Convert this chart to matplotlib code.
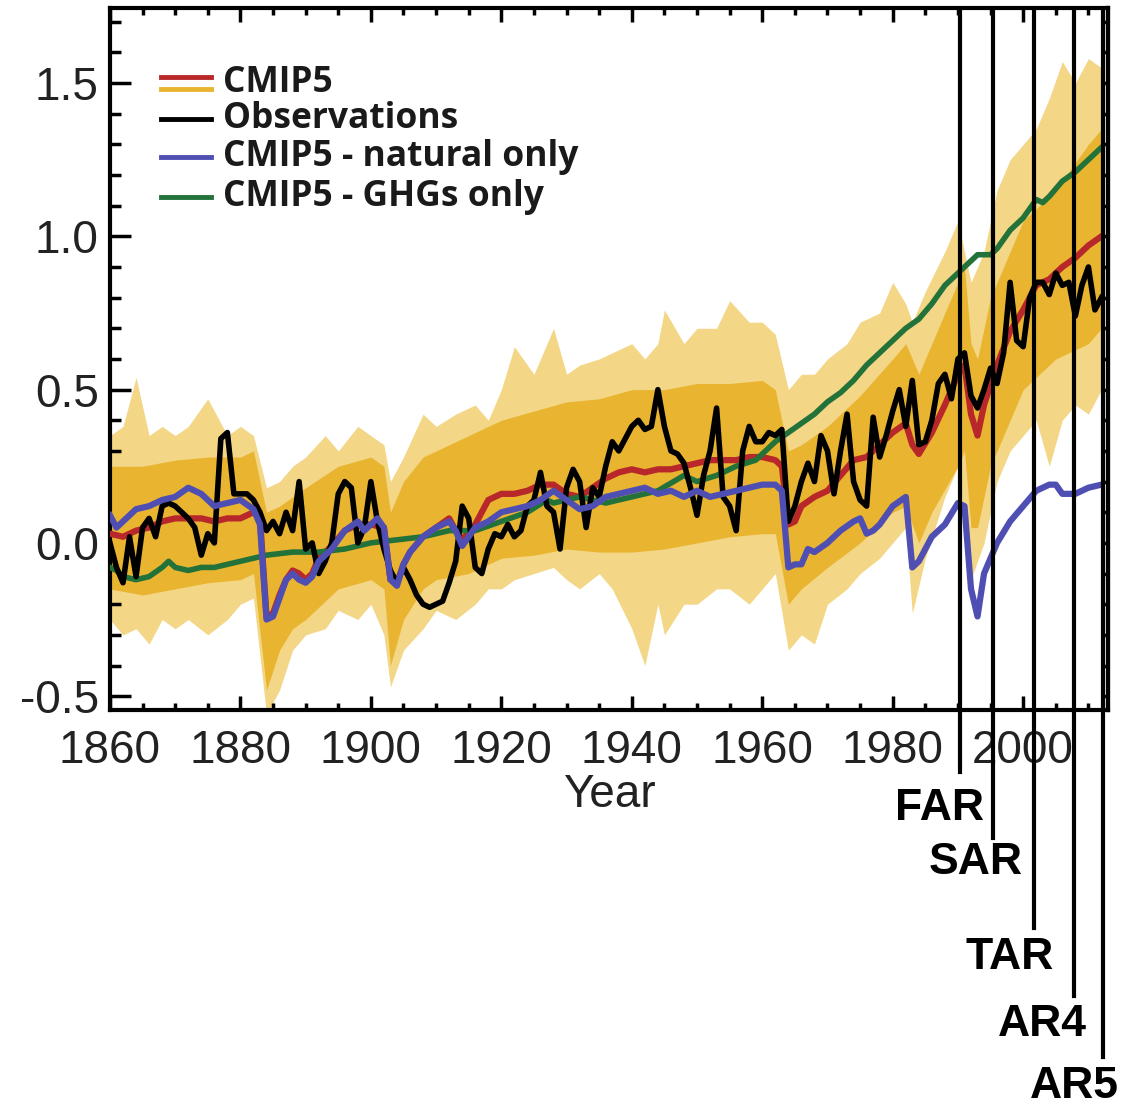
import numpy as np
import matplotlib
matplotlib.use("Agg")
import matplotlib.pyplot as plt
import matplotlib.transforms as mtransforms
from matplotlib.ticker import MultipleLocator

# observations, annual 1860-2012
obs_years = np.arange(1860, 2013)
obs = [
    0.00, -0.08, -0.13, 0.02, -0.11, 0.05, 0.08, 0.02, 0.12, 0.13,
    0.12, 0.10, 0.08, 0.05, -0.04, 0.03, 0.00, 0.34, 0.36, 0.16,
    0.16, 0.16, 0.14, 0.10, 0.04, 0.07, 0.03, 0.10, 0.04, 0.20,
    -0.02, 0.00, -0.10, -0.06, 0.00, 0.16, 0.20, 0.18, 0.00, 0.05,
    0.20, 0.07, -0.02, -0.09, -0.13, -0.08, -0.12, -0.17, -0.20, -0.21,
    -0.20, -0.19, -0.13, -0.06, 0.12, 0.08, -0.08, -0.10, -0.02, 0.03,
    0.02, 0.06, 0.02, 0.04, 0.12, 0.14, 0.23, 0.12, 0.10, -0.02,
    0.18, 0.24, 0.20, 0.05, 0.18, 0.15, 0.25, 0.33, 0.30, 0.34,
    0.38, 0.40, 0.37, 0.38, 0.50, 0.38, 0.30, 0.29, 0.26, 0.18,
    0.09, 0.22, 0.30, 0.44, 0.15, 0.12, 0.04, 0.30, 0.38, 0.33,
    0.33, 0.36, 0.35, 0.37, 0.07, 0.12, 0.20, 0.26, 0.20, 0.35,
    0.30, 0.16, 0.30, 0.42, 0.20, 0.14, 0.12, 0.41, 0.28, 0.35,
    0.43, 0.50, 0.38, 0.53, 0.32, 0.33, 0.40, 0.52, 0.55, 0.47,
    0.60, 0.62, 0.48, 0.44, 0.50, 0.57, 0.52, 0.62, 0.85, 0.66,
    0.64, 0.80, 0.85, 0.85, 0.81, 0.88, 0.84, 0.85, 0.74, 0.84,
    0.90, 0.76, 0.80,
]

# CMIP5 multi-model mean (red)
cmip_years = [1860, 1862, 1864, 1866, 1868, 1870, 1872, 1874, 1876, 1878, 1880, 1882, 1883,
              1884, 1885, 1886, 1887, 1888, 1889, 1890, 1891, 1892, 1894, 1896, 1898, 1900,
              1902, 1903, 1904, 1905, 1906, 1908, 1910, 1912, 1913, 1914, 1916, 1918, 1920,
              1922, 1924, 1926, 1928, 1930, 1932, 1934, 1936, 1938, 1940, 1942, 1944, 1946,
              1948, 1950, 1952, 1954, 1956, 1958, 1960, 1962, 1963, 1964, 1965, 1966, 1968,
              1970, 1972, 1974, 1976, 1978, 1980, 1982, 1983, 1984, 1986, 1988, 1990, 1991,
              1992, 1993, 1994, 1996, 1998, 2000, 2002, 2004, 2006, 2008, 2010, 2012]
cmip_mean = [0.03, 0.02, 0.04, 0.05, 0.07, 0.08, 0.08, 0.08, 0.07, 0.08, 0.08, 0.10, 0.08,
             -0.24, -0.23, -0.17, -0.12, -0.09, -0.10, -0.12, -0.10, -0.05, -0.01, 0.04, 0.06, 0.06,
             0.05, -0.12, -0.13, -0.07, -0.03, 0.02, 0.05, 0.08, 0.04, 0.01, 0.06, 0.14, 0.16,
             0.16, 0.17, 0.19, 0.19, 0.16, 0.15, 0.18, 0.21, 0.23, 0.24, 0.23, 0.24, 0.24,
             0.25, 0.26, 0.27, 0.27, 0.27, 0.28, 0.28, 0.27, 0.25, 0.06, 0.07, 0.12, 0.15,
             0.17, 0.22, 0.27, 0.28, 0.32, 0.36, 0.39, 0.32, 0.29, 0.36, 0.45, 0.55, 0.58,
             0.42, 0.35, 0.45, 0.58, 0.69, 0.76, 0.84, 0.86, 0.90, 0.93, 0.97, 1.00]

# CMIP5 natural forcing only (blue)
nat_years = [1860, 1861, 1862, 1864, 1866, 1868, 1870, 1872, 1874, 1876, 1878, 1880, 1882, 1883,
             1884, 1885, 1886, 1887, 1888, 1889, 1890, 1891, 1892, 1894, 1896, 1898, 1899, 1900,
             1901, 1902, 1903, 1904, 1905, 1906, 1908, 1910, 1912, 1913, 1914, 1915, 1916, 1918,
             1920, 1922, 1924, 1926, 1928, 1930, 1932, 1934, 1936, 1938, 1940, 1942, 1944, 1946,
             1948, 1950, 1952, 1954, 1956, 1958, 1960, 1962, 1963, 1964, 1965, 1966, 1967, 1968,
             1970, 1972, 1974, 1975, 1976, 1977, 1978, 1980, 1982, 1983, 1984, 1986, 1988, 1990,
             1991, 1992, 1993, 1994, 1996, 1998, 2000, 2002, 2004, 2005, 2006, 2008, 2010, 2012]
nat_only = [0.09, 0.05, 0.07, 0.11, 0.12, 0.14, 0.15, 0.18, 0.16, 0.12, 0.13, 0.14, 0.11, 0.06,
            -0.25, -0.24, -0.18, -0.12, -0.10, -0.12, -0.13, -0.11, -0.06, -0.02, 0.04, 0.07, 0.04, 0.06,
            0.08, 0.05, -0.12, -0.14, -0.07, -0.03, 0.02, 0.05, 0.07, 0.04, -0.01, 0.02, 0.05, 0.07,
            0.10, 0.11, 0.12, 0.14, 0.17, 0.14, 0.11, 0.12, 0.15, 0.16, 0.17, 0.18, 0.16, 0.17,
            0.15, 0.17, 0.15, 0.16, 0.17, 0.18, 0.19, 0.19, 0.17, -0.08, -0.07, -0.07, -0.02, -0.03,
            0.00, 0.04, 0.07, 0.08, 0.03, 0.04, 0.06, 0.12, 0.15, -0.08, -0.06, 0.02, 0.06, 0.13,
            0.12, -0.15, -0.24, -0.10, 0.00, 0.07, 0.12, 0.17, 0.19, 0.19, 0.16, 0.16, 0.18, 0.19]

# CMIP5 greenhouse gases only (green)
ghg_years = [1860, 1861, 1862, 1864, 1866, 1868, 1869, 1870, 1872, 1874, 1876, 1878, 1880,
             1884, 1888, 1892, 1896, 1900, 1904, 1908, 1912, 1916, 1920, 1924, 1927, 1928,
             1932, 1936, 1940, 1944, 1948, 1950, 1953, 1956, 1959, 1962, 1964, 1966, 1968,
             1970, 1972, 1974, 1976, 1978, 1980, 1982, 1984, 1986, 1988, 1990, 1992, 1993,
             1995, 1996, 1998, 2000, 2002, 2003, 2004, 2006, 2008, 2010, 2012]
ghg_only = [-0.08, -0.09, -0.11, -0.12, -0.11, -0.08, -0.06, -0.08, -0.09, -0.08, -0.08, -0.07, -0.06,
            -0.04, -0.03, -0.03, -0.02, 0.00, 0.01, 0.02, 0.04, 0.04, 0.07, 0.10, 0.14, 0.13,
            0.15, 0.13, 0.15, 0.17, 0.22, 0.20, 0.22, 0.25, 0.27, 0.33, 0.36, 0.39, 0.42,
            0.46, 0.49, 0.53, 0.58, 0.62, 0.66, 0.70, 0.73, 0.78, 0.84, 0.88, 0.92, 0.94,
            0.94, 0.96, 1.02, 1.06, 1.12, 1.11, 1.13, 1.18, 1.21, 1.25, 1.29]

# CMIP5 ensemble spread: dense core of runs
core_years = [1860, 1865, 1870, 1875, 1880, 1882, 1884, 1886, 1888, 1890, 1895, 1900, 1902,
              1903, 1905, 1908, 1910, 1915, 1920, 1925, 1930, 1935, 1940, 1945, 1950, 1955,
              1960, 1962, 1964, 1966, 1970, 1975, 1980, 1982, 1984, 1986, 1990, 1991, 1992,
              1993, 1995, 2000, 2005, 2010, 2012]
core_lo = [-0.15, -0.17, -0.15, -0.13, -0.12, -0.10, -0.48, -0.35, -0.28, -0.25, -0.15, -0.12, -0.15,
           -0.40, -0.25, -0.15, -0.12, -0.10, -0.05, -0.04, -0.02, -0.03, -0.03, -0.02, 0.00, 0.02,
           0.03, 0.03, -0.20, -0.15, -0.08, 0.00, 0.10, 0.12, 0.00, 0.10, 0.25, 0.30, 0.05,
           0.05, 0.25, 0.50, 0.60, 0.65, 0.70]
core_hi = [0.25, 0.25, 0.27, 0.28, 0.28, 0.30, 0.10, 0.12, 0.15, 0.18, 0.25, 0.28, 0.25,
           0.10, 0.20, 0.28, 0.30, 0.35, 0.40, 0.43, 0.46, 0.47, 0.50, 0.50, 0.52, 0.52,
           0.53, 0.50, 0.30, 0.32, 0.38, 0.48, 0.60, 0.65, 0.55, 0.65, 0.85, 0.90, 0.65,
           0.60, 0.80, 1.05, 1.15, 1.30, 1.35]

# outermost runs
outer_years = [1860, 1862, 1864, 1866, 1868, 1870, 1872, 1875, 1878, 1880, 1882, 1884, 1886,
               1888, 1890, 1893, 1895, 1898, 1900, 1902, 1903, 1905, 1908, 1910, 1913, 1916,
               1918, 1920, 1922, 1925, 1928, 1930, 1932, 1935, 1937, 1940, 1942, 1944, 1945,
               1948, 1950, 1953, 1955, 1958, 1960, 1962, 1964, 1966, 1968, 1970, 1973, 1975,
               1978, 1980, 1982, 1983, 1985, 1988, 1990, 1992, 1994, 1996, 1998, 2000, 2002,
               2004, 2006, 2008, 2010, 2012]
outer_lo = [-0.25, -0.30, -0.28, -0.33, -0.25, -0.28, -0.25, -0.30, -0.25, -0.20, -0.18, -0.56, -0.48,
            -0.35, -0.30, -0.28, -0.22, -0.25, -0.20, -0.30, -0.47, -0.35, -0.28, -0.22, -0.25, -0.20,
            -0.15, -0.15, -0.12, -0.10, -0.08, -0.12, -0.15, -0.10, -0.15, -0.28, -0.40, -0.20, -0.30,
            -0.20, -0.20, -0.15, -0.15, -0.20, -0.15, -0.10, -0.35, -0.30, -0.33, -0.20, -0.15, -0.10,
            -0.05, 0.00, 0.05, -0.23, -0.05, 0.15, 0.25, -0.12, 0.00, 0.20, 0.30, 0.35, 0.40,
            0.25, 0.40, 0.45, 0.42, 0.50]
outer_hi = [0.35, 0.38, 0.54, 0.35, 0.38, 0.35, 0.38, 0.47, 0.35, 0.38, 0.35, 0.18, 0.20,
            0.25, 0.28, 0.35, 0.30, 0.38, 0.35, 0.32, 0.20, 0.28, 0.42, 0.38, 0.42, 0.45,
            0.40, 0.50, 0.64, 0.55, 0.70, 0.55, 0.58, 0.60, 0.62, 0.65, 0.60, 0.65, 0.76,
            0.65, 0.70, 0.70, 0.79, 0.72, 0.72, 0.68, 0.50, 0.55, 0.55, 0.60, 0.65, 0.72,
            0.75, 0.85, 0.78, 0.72, 0.82, 0.95, 1.05, 0.85, 0.95, 1.15, 1.25, 1.30, 1.35,
            1.45, 1.57, 1.50, 1.58, 1.55]

# IPCC assessment reports (line position, label)
reports = ["FAR", "SAR", "TAR", "AR4", "AR5"]
report_x = [1990.3, 1995.4, 2001.6, 2007.8, 2012.3]

YELLOW = "#e9b530"
YELLOW_LIGHT = "#f3d686"
RED = "#b8282a"
BLUE = "#4f4fb3"
GREEN = "#23723a"

plt.rcParams["font.family"] = ["Liberation Sans", "DejaVu Sans"]

fig = plt.figure(figsize=(11.22, 11.05), dpi=100)
ax = fig.add_axes([0.098, 0.3575, 0.8895, 0.6353])

ax.fill_between(outer_years, outer_lo, outer_hi, color=YELLOW_LIGHT, lw=0, zorder=1)
ax.fill_between(core_years, core_lo, core_hi, color=YELLOW, lw=0, zorder=2)

ax.plot(cmip_years, cmip_mean, color=RED, lw=4.5, zorder=3)
ax.plot(ghg_years, ghg_only, color=GREEN, lw=4, zorder=4)
ax.plot(obs_years, obs, color="black", lw=4, zorder=5)
ax.plot(nat_years, nat_only, color=BLUE, lw=4.5, zorder=6)

ax.set_xlim(1860, 2013)
ax.set_ylim(-0.545, 1.745)
ax.xaxis.set_major_locator(MultipleLocator(20))
ax.xaxis.set_minor_locator(MultipleLocator(5))
ax.yaxis.set_major_locator(MultipleLocator(0.5))
ax.yaxis.set_minor_locator(MultipleLocator(0.1))
ax.set_yticks([-0.5, 0.0, 0.5, 1.0, 1.5])
ax.set_yticklabels(["-0.5", "0.0", "0.5", "1.0", "1.5"])

for s in ax.spines.values():
    s.set_linewidth(3)
ax.tick_params(axis="both", which="both", direction="in", width=2.5, colors="black",
               labelcolor="#222222", labelsize=33, top=True)
ax.tick_params(axis="x", which="major", length=10, pad=14)
ax.tick_params(axis="x", which="minor", length=5)
ax.tick_params(axis="y", which="major", length=15, pad=8)
ax.tick_params(axis="y", which="minor", length=8)

sec = ax.secondary_yaxis("right")
sec.yaxis.set_major_locator(MultipleLocator(0.5))
sec.yaxis.set_minor_locator(MultipleLocator(0.1))
sec.tick_params(which="both", direction="in", length=5, width=2.5, labelright=False)
sec.spines["right"].set_linewidth(3)

ax.set_xlabel("Year", fontsize=33, color="#222222", labelpad=0)

# legend drawn by hand (CMIP5 entry has two stacked swatches)
lx0, lx1, tx = 0.051, 0.101, 0.113
leg_font = dict(fontsize=25.5, family=["Open Sans", "DejaVu Sans"], fontweight="bold",
                va="center", ha="left", color="#1a1a1a")
ax.plot([lx0, lx1], [0.902, 0.902], transform=ax.transAxes, color=RED, lw=3.5)
ax.plot([lx0, lx1], [0.884, 0.884], transform=ax.transAxes, color=YELLOW, lw=3.5)
ax.text(tx, 0.893, "CMIP5", transform=ax.transAxes, **leg_font)
ax.plot([lx0, lx1], [0.842, 0.842], transform=ax.transAxes, color="black", lw=3.5)
ax.text(tx, 0.842, "Observations", transform=ax.transAxes, **leg_font)
ax.plot([lx0, lx1], [0.787, 0.787], transform=ax.transAxes, color=BLUE, lw=3.5)
ax.text(tx, 0.787, "CMIP5 - natural only", transform=ax.transAxes, **leg_font)
ax.plot([lx0, lx1], [0.731, 0.731], transform=ax.transAxes, color=GREEN, lw=3.5)
ax.text(tx, 0.731, "CMIP5 - GHGs only", transform=ax.transAxes, **leg_font)

# report markers running below the axes
trans = mtransforms.blended_transform_factory(ax.transData, ax.transAxes)
line_bottom = [-0.088, -0.182, -0.310, -0.407, -0.495]
label_x = [1987.1, 1992.7, 1997.9, 2002.9, 2007.9]
label_y = [-0.141, -0.218, -0.353, -0.448, -0.536]
for name, x, yb, lxp, ly in zip(reports, report_x, line_bottom, label_x, label_y):
    ax.plot([x, x], [0.998, yb], transform=trans, color="black", lw=3, clip_on=False, zorder=10)
    ax.text(lxp, ly, name, transform=trans, fontsize=32, fontweight="bold",
            ha="center", va="center", color="black", clip_on=False)

fig.savefig("out.png", dpi=100)
